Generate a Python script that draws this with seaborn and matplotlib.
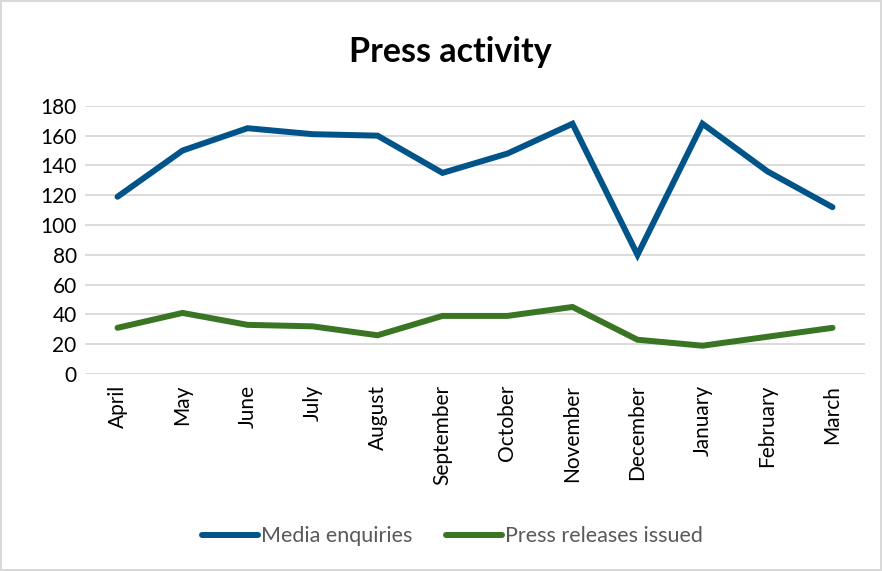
import matplotlib
matplotlib.use("Agg")
import matplotlib.pyplot as plt
import seaborn as sns
import pandas as pd

# Datos
months = ['April', 'May', 'June', 'July', 'August', 'September', 'October',
          'November', 'December', 'January', 'February', 'March']
media_enquiries = [119, 150, 165, 161, 160, 135, 148, 168, 80, 168, 136, 112]
press_releases = [31, 41, 33, 32, 26, 39, 39, 45, 23, 19, 25, 31]
series_names = ['Media enquiries', 'Press releases issued']
colors = ['#00548A', '#3A7523']

df = pd.DataFrame({'Month': months,
                   series_names[0]: media_enquiries,
                   series_names[1]: press_releases})
df_melted = df.melt(id_vars=['Month'], var_name='Series', value_name='Value')

sns.set_style("white")
plt.rcParams['font.family'] = ['Lato', 'DejaVu Sans']

fig = plt.figure(figsize=(8.82, 5.71), dpi=100)
fig.patch.set_edgecolor('#d9d9d9')
fig.patch.set_linewidth(1.5)
ax = fig.add_axes([0.0964, 0.345, 0.8843, 0.4696])

sns.lineplot(data=df_melted, x='Month', y='Value', hue='Series', palette=colors,
             linewidth=4.3, sort=False, ax=ax, legend=False,
             solid_capstyle='round', solid_joinstyle='miter')

ax.set_xlim(-0.5, len(months) - 0.5)
ax.set_ylim(0, 180)
ax.set_yticks(range(0, 181, 20))
ax.yaxis.grid(True, color='#d9d9d9', linewidth=1.3)
ax.set_axisbelow(True)
for s in ax.spines.values():
    s.set_visible(False)
ax.tick_params(axis='both', length=0, labelsize=15, colors='black', pad=6)
ax.tick_params(axis='x', pad=8)
plt.setp(ax.get_xticklabels(), rotation=90)
ax.set_xlabel('')
ax.set_ylabel('')

fig.suptitle('Press activity', fontsize=24.5, fontweight='bold', color='black',
             x=0.51, y=0.909, va='center')

handles = [plt.Line2D([], [], color=c, linewidth=4.3, solid_capstyle='round') for c in colors]
leg = fig.legend(handles, series_names, loc='center', bbox_to_anchor=(0.513, 0.061),
                 ncol=2, frameon=False, fontsize=15.5, handlelength=2.6,
                 handletextpad=0.1, columnspacing=1.6)
for t in leg.get_texts():
    t.set_color('#595959')

fig.savefig('out.png', dpi=100, edgecolor=fig.get_edgecolor())
